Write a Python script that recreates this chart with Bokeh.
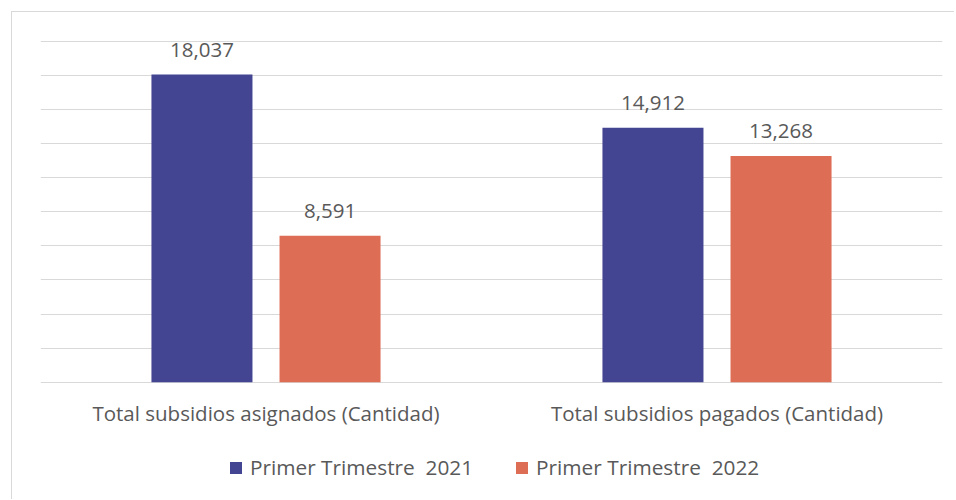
from bokeh.plotting import figure
from bokeh.models import FactorRange, Range1d, FixedTicker, Legend, LegendItem, ColumnDataSource
from bokeh.transform import dodge
from bokeh.core.properties import value
from bokeh.embed import file_html
from bokeh.resources import INLINE

categories = ["Total subsidios asignados (Cantidad)", "Total subsidios pagados (Cantidad)"]
series_names = ["Primer Trimestre  2021", "Primer Trimestre  2022"]
values_2021 = [18037, 14912]
values_2022 = [8591, 13268]
grid_ticks = [0, 2000, 4000, 6000, 8000, 10000, 12000, 14000, 16000, 18000, 20000]

colors = ["#434492", "#DD6D54"]
FONT = "Open Sans"
TEXT_COLOR = "#595959"
FS = "20.5px"

# layout geometry (pixels)
FIG_W, FIG_H = 943, 488
MT, LEFT, RIGHT = 28, 28, 13
PLOT_PX = 341           # pixel height from 0 to 20000
BELOW_PX = FIG_H - MT - PLOT_PX - 1   # extra frame space below the baseline
ymax = grid_ticks[-1]
ymin = -BELOW_PX * ymax / PLOT_PX

src = ColumnDataSource(dict(
    cat=categories,
    zero=[0] * len(categories),
    v1=values_2021,
    v2=values_2022,
    l1=[f"{v:,}" for v in values_2021],
    l2=[f"{v:,}" for v in values_2022],
))

p = figure(x_range=FactorRange(*categories), y_range=Range1d(ymin, ymax + 30),
           width=FIG_W, height=FIG_H, output_backend="svg", toolbar_location=None,
           min_border_left=LEFT, min_border_right=RIGHT, min_border_top=MT,
           min_border_bottom=0)
p.styles = {"border-left": "1px solid #d9d9d9", "border-top": "1px solid #d9d9d9",
            "margin-left": "11px", "margin-top": "11px"}
p.outline_line_color = None
p.background_fill_color = "white"
p.border_fill_color = "white"

off = 0.142
w = 0.224
r1 = p.vbar(x=dodge("cat", -off, range=p.x_range), top="v1", width=w, source=src,
            fill_color=colors[0], line_color=None)
r2 = p.vbar(x=dodge("cat", off, range=p.x_range), top="v2", width=w, source=src,
            fill_color=colors[1], line_color=None)

for col, lab, d in (("v1", "l1", -off), ("v2", "l2", off)):
    p.text(x=dodge("cat", d, range=p.x_range), y=col, text=lab, source=src,
           text_align="center", text_baseline="alphabetic", y_offset=-25,
           text_font=value(FONT), text_font_size=FS, text_color=TEXT_COLOR)

# category labels under the baseline
p.text(x="cat", y="zero", text="cat", source=src, text_align="center",
       text_baseline="alphabetic", y_offset=31,
       text_font=value(FONT), text_font_size=FS, text_color=TEXT_COLOR)

p.xaxis.visible = False
p.yaxis.visible = False
p.ygrid.ticker = FixedTicker(ticks=grid_ticks)
p.ygrid.grid_line_color = "#d9d9d9"
p.ygrid.grid_line_width = 1
p.xgrid.grid_line_color = None

legend = Legend(items=[LegendItem(label=series_names[0], renderers=[r1]),
                       LegendItem(label=series_names[1], renderers=[r2])],
                orientation="horizontal", location=(188, 19),
                label_text_font=FONT, label_text_font_size="20.8px", label_text_color=TEXT_COLOR,
                glyph_width=15, glyph_height=15, label_standoff=7, spacing=41,
                border_line_color=None, background_fill_alpha=0, margin=0, padding=4)
p.add_layout(legend, "center")

open("out.html", "w").write(file_html(p, INLINE))
